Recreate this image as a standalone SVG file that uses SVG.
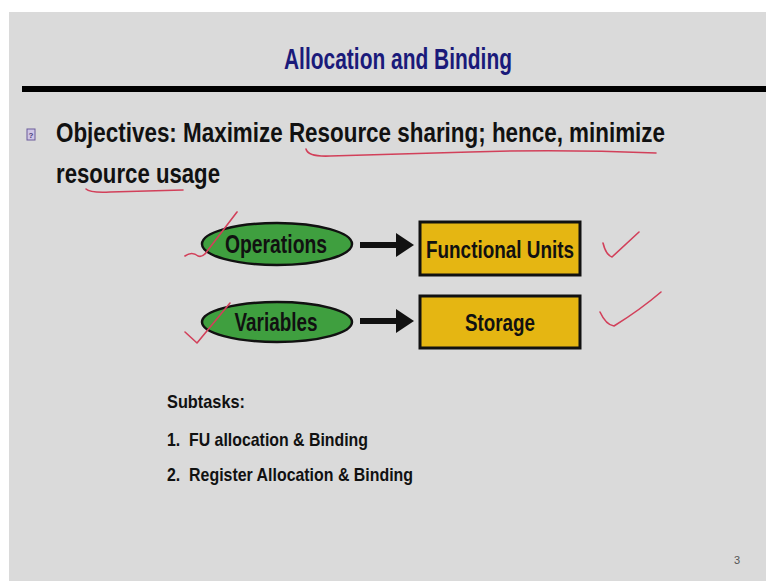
<svg xmlns="http://www.w3.org/2000/svg" width="766" height="581" viewBox="0 0 766 581">
<defs>
<style>
.t{font-family:"Liberation Sans",Arial,sans-serif;font-weight:bold;fill:#111;white-space:pre}
.ell{fill:#3f9f3f;stroke:#111;stroke-width:2.5}
.box{fill:#e5b612;stroke:#111;stroke-width:3}
.ink{fill:none;stroke:#d2405a;stroke-width:1.6;stroke-linecap:round;stroke-linejoin:round}
.shaft{stroke:#111;stroke-width:6}
</style>
<marker id="ah" markerWidth="4" markerHeight="4" refX="0" refY="2" orient="auto" markerUnits="strokeWidth">
<path d="M0,0 L3,2 L0,4 Z" fill="#111"/>
</marker>
</defs>
<rect width="766" height="581" fill="#ffffff"/>
<rect x="9" y="12" width="757" height="569" fill="#dadada"/>
<text class="t" x="398" y="69" font-size="29" text-anchor="middle" textLength="228" lengthAdjust="spacingAndGlyphs" style="fill:#1a1a7a">Allocation and Binding</text>
<rect x="22" y="86" width="744" height="6" fill="#000"/>
<g id="bullet">
<rect x="27" y="129" width="8" height="11" fill="#cfc6e6" stroke="#6a5a9a" stroke-width="1"/>
<text x="31" y="138" font-size="8" text-anchor="middle" font-family="Liberation Sans,sans-serif" font-weight="bold" fill="#4a3a7a">?</text>
</g>
<text class="t" x="56" y="142" font-size="27" textLength="609" lengthAdjust="spacingAndGlyphs">Objectives: Maximize Resource sharing; hence, minimize</text>
<text class="t" x="56" y="183" font-size="27" textLength="164" lengthAdjust="spacingAndGlyphs">resource usage</text>
<g id="connectors">
<line class="shaft" x1="360" y1="245" x2="396" y2="245" marker-end="url(#ah)"/>
<line class="shaft" x1="360" y1="321" x2="396" y2="321" marker-end="url(#ah)"/>
</g>
<g id="operations">
<ellipse class="ell" cx="277" cy="244" rx="75" ry="21"/>
<text class="t" x="276" y="253" font-size="25" text-anchor="middle" textLength="102" lengthAdjust="spacingAndGlyphs">Operations</text>
</g>
<g id="variables">
<ellipse class="ell" cx="277" cy="322" rx="75" ry="20"/>
<text class="t" x="276" y="331" font-size="25" text-anchor="middle" textLength="83" lengthAdjust="spacingAndGlyphs">Variables</text>
</g>
<g id="functional-units">
<rect class="box" x="420" y="222" width="160" height="53"/>
<text class="t" x="500" y="258" font-size="24" text-anchor="middle" textLength="148" lengthAdjust="spacingAndGlyphs">Functional Units</text>
</g>
<g id="storage">
<rect class="box" x="420" y="296" width="160" height="52"/>
<text class="t" x="500" y="331" font-size="24" text-anchor="middle" textLength="70" lengthAdjust="spacingAndGlyphs">Storage</text>
</g>
<text class="t" x="167" y="408" font-size="19" textLength="78" lengthAdjust="spacingAndGlyphs">Subtasks:</text>
<text class="t" x="167" y="446" font-size="19" textLength="201" lengthAdjust="spacingAndGlyphs">1.  FU allocation &amp; Binding</text>
<text class="t" x="167" y="481" font-size="19" textLength="246" lengthAdjust="spacingAndGlyphs">2.  Register Allocation &amp; Binding</text>
<text x="734" y="564" font-size="11" font-family="Liberation Sans,sans-serif" fill="#555">3</text>
<g id="ink">
<path class="ink" d="M306,149 Q308,157 330,156 L470,152 Q560,149 656,153"/>
<path class="ink" d="M86,189 Q90,193 110,192 L183,190"/>
<path class="ink" d="M185,256 Q192,251 198,256 Q203,258 208,250 L237,212"/>
<path class="ink" d="M185,332 L197,343 L230,303"/>
<path class="ink" d="M603,243 Q606,255 612,257 Q625,245 639,232"/>
<path class="ink" d="M600,312 Q606,325 614,326 Q640,310 661,292"/>
</g>
</svg>
